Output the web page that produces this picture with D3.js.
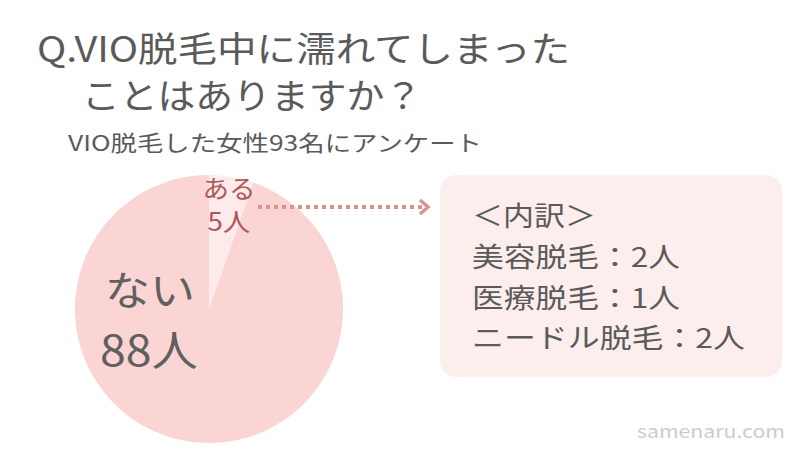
<!DOCTYPE html>
<html><head><meta charset="utf-8">
<script src="https://cdn.jsdelivr.net/npm/d3@7"></script>
<style>body{margin:0;background:#fff}svg{display:block}</style>
</head><body>
<svg id="c" width="812" height="457"></svg>
<script>
const categories = ["ある", "ない"];
const values = [5, 88];
const breakdownLabels = ["美容脱毛", "医療脱毛", "ニードル脱毛"];
const breakdownValues = [2, 1, 2];
const titleLines = ["Q.VIO脱毛中に濡れてしまった", "ことはありますか？"];
const subtitle = "VIO脱毛した女性93名にアンケート";

const font = "'Noto Sans CJK JP','Noto Sans',sans-serif";
const svg = d3.select("#c");
const textCol = "#5a5a5a";

function txt(x, y, size, fill, s, len, anchor) {
  const t = svg.append("text").attr("x", x).attr("y", y).attr("font-size", size).attr("fill", fill)
    .attr("font-family", font).text(s);
  if (anchor) t.attr("text-anchor", anchor);
  if (len) t.attr("textLength", len).attr("lengthAdjust", "spacingAndGlyphs");
  return t;
}

txt(37, 62, 35, textCol, titleLines[0], 533);
txt(82, 109, 35, textCol, titleLines[1], 340);
txt(68, 151, 22, textCol, subtitle, 414);

const cx = 209, cy = 309, r = 134;
const pie = d3.pie().sort(null).value(d => d)(values);
const arc = d3.arc().innerRadius(0).outerRadius(r);
const colors = ["#fdeaea", "#fbd4d4"];
const g = svg.append("g").attr("transform", `translate(${cx},${cy})`);
g.selectAll("path").data(pie).join("path").attr("d", arc).attr("fill", (d, i) => colors[i]);

// labels
txt(229, 198, 25, "#b05858", categories[0], 53, "middle");
txt(229, 231, 25, "#b05858", values[0] + "人", 43, "middle");
txt(150, 305, 40, "#606060", categories[1], 90, "middle");
txt(149, 366, 42, "#606060", values[1] + "人", 98, "middle");

// arrow
const ac = "#d99292";
svg.append("line").attr("x1", 258).attr("y1", 207).attr("x2", 424).attr("y2", 207)
  .attr("stroke", ac).attr("stroke-width", 4).attr("stroke-dasharray", "4,4");
svg.append("path").attr("d", "M420,200 L428,207 L420,214").attr("fill", "none")
  .attr("stroke", ac).attr("stroke-width", 3.5);

// box
svg.append("rect").attr("x", 440).attr("y", 175).attr("width", 342).attr("height", 202)
  .attr("rx", 16).attr("fill", "#fdeeee");
const bx = 472;
txt(bx, 226, 27, textCol, "＜内訳＞", 124);
const lens = [208, 208, 273];
breakdownLabels.forEach((l, i) => {
  txt(bx, 267 + i * 40.5, 27, textCol, l + "：" + breakdownValues[i] + "人", lens[i]);
});

txt(785, 438, 18, "#cccccc", "samenaru.com", 148, "end");
</script>
</body></html>
